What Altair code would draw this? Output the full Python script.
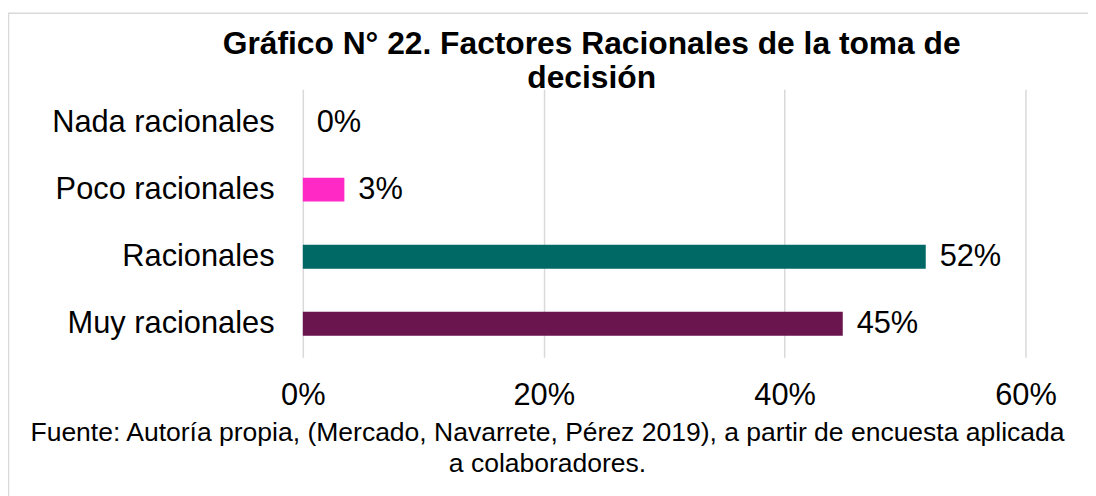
import altair as alt
import pandas as pd

categories = ["Nada racionales", "Poco racionales", "Racionales", "Muy racionales"]
values = [0.0, 0.0345, 0.5172, 0.4483]
value_labels = ["0%", "3%", "52%", "45%"]
colors = ["#FFFFFF", "#FF29C6", "#006865", "#6B154F"]
tick_values = [0, 0.2, 0.4, 0.6]

title_lines = ["Gráfico N° 22. Factores Racionales de la toma de", "decisión"]
footer_lines = ["Fuente: Autoría propia, (Mercado, Navarrete, Pérez 2019), a partir de encuesta aplicada",
                "a colaboradores."]

df = pd.DataFrame({"cat": categories, "val": values, "lab": value_labels})

FONT = "Liberation Sans"

y_enc = alt.Y("cat:N", sort=categories, title=None,
              scale=alt.Scale(paddingInner=0, paddingOuter=0),
              axis=alt.Axis(labelFontSize=31, labelColor="#000000", labelPadding=29,
                            ticks=False, domain=False, labelFont=FONT, labelLimit=0))

x_enc = alt.X("val:Q", scale=alt.Scale(domain=[0, 0.6], nice=False),
              axis=alt.Axis(values=tick_values, format=".0%", labelFontSize=31,
                            labelColor="#000000", labelPadding=24, ticks=False, domain=False,
                            grid=True, gridColor="#D9D9D9", gridWidth=1.5,
                            labelFont=FONT,
                            title=footer_lines, titleFontSize=26.7, titleFontWeight="normal",
                            titleColor="#000000", titleFont=FONT, titleX=246, titleY=84,
                            titleAlign="center", titleBaseline="alphabetic", titleLineHeight=31,
                            labelFlush=False))

bars = alt.Chart(df).mark_bar(size=24).encode(
    x=x_enc,
    y=y_enc,
    color=alt.Color("cat:N", scale=alt.Scale(domain=categories, range=colors), legend=None),
)

labels = alt.Chart(df).mark_text(align="left", baseline="middle", dx=14, fontSize=31,
                                 font=FONT, color="#000000").encode(
    x=alt.X("val:Q"),
    y=alt.Y("cat:N", sort=categories),
    text="lab:N",
)

border = alt.Chart(alt.Data(values=[{"b": 1}])).mark_rect(
    fill=None, stroke="#D9D9D9", strokeWidth=1.5
).encode(
    x=alt.value(-296.5), x2=alt.value(805), y=alt.value(-76.5), y2=alt.value(420)
)

chart = alt.layer(border, bars, labels).properties(
    width=728, height=270,
    padding={"left": 297, "top": 80, "right": 63, "bottom": 138},
    autosize=alt.AutoSizeParams(type="none"),
    title=alt.TitleParams(text=title_lines, fontSize=32, fontWeight="bold", font=FONT,
                          color="#000000", anchor="middle", frame="group", dx=-73, dy=84,
                          lineHeight=34, offset=1),
).configure(background="#FFFFFF").configure_view(strokeWidth=0, stroke="transparent")

chart.save("out.html", embed_options={"renderer": "svg", "actions": False})
